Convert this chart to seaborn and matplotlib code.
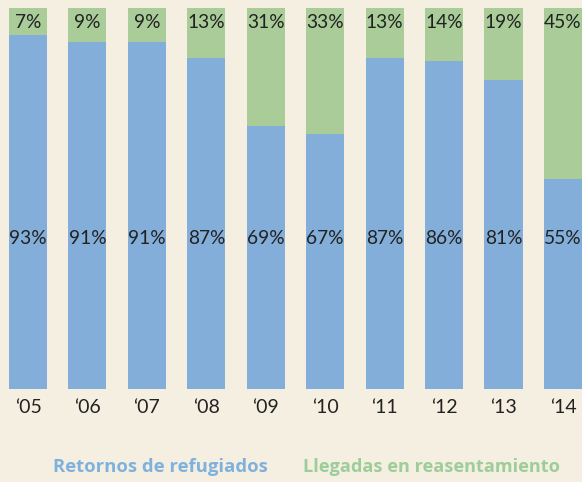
import matplotlib
matplotlib.use("Agg")
import matplotlib.pyplot as plt
import seaborn as sns
import pandas as pd

years = ["‘05", "‘06", "‘07", "‘08", "‘09", "‘10", "‘11", "‘12", "‘13", "‘14"]
retornos = [93, 91, 91, 87, 69, 67, 87, 86, 81, 55]
reasent = [7, 9, 9, 13, 31, 33, 13, 14, 19, 45]

BG = "#f5efe2"
BLUE = "#82aed9"
GREEN = "#a9cc99"
TXT = "#222222"

sns.set_theme(style="white")
plt.rcParams['font.family'] = ['Lato', 'DejaVu Sans']

df = pd.DataFrame({"year": years, "ret": retornos, "res": reasent})
df["total"] = df["ret"] + df["res"]

fig = plt.figure(figsize=(5.82, 4.82), dpi=100, facecolor=BG)
ax = fig.add_axes([0, 1 - 389/482, 1, 381/482])
ax.set_facecolor(BG)

sns.barplot(data=df, x="year", y="total", color=GREEN, saturation=1, width=0.64,
            linewidth=0, ax=ax)
sns.barplot(data=df, x="year", y="ret", color=BLUE, saturation=1, width=0.64,
            linewidth=0, ax=ax)

for i, (r, s) in enumerate(zip(retornos, reasent)):
    ax.text(i, 96.3, f"{s}%", ha="center", va="center", fontsize=13.8, color=TXT)
    ax.text(i, 39.4, f"{r}%", ha="center", va="center", fontsize=13.8, color=TXT)

ax.set_xlim(-28/59.44, (582-28)/59.44)
ax.set_ylim(0, 100)
ax.set_xlabel("")
ax.set_ylabel("")
ax.set_yticks([])
ax.tick_params(axis="x", length=0, pad=7, labelsize=14, labelcolor=TXT)
for sp in ax.spines.values():
    sp.set_visible(False)

fig.text(53/582, 1 - 467/482, "Retornos de refugiados", color="#7fb1dd", fontsize=13.3,
         fontweight="bold", family=["Open Sans", "DejaVu Sans"], ha="left", va="center")
fig.text(303/582, 1 - 467/482, "Llegadas en reasentamiento", color="#9dcd98", fontsize=13.1,
         fontweight="bold", family=["Open Sans", "DejaVu Sans"], ha="left", va="center")

fig.savefig("out.png", dpi=100, facecolor=BG)
